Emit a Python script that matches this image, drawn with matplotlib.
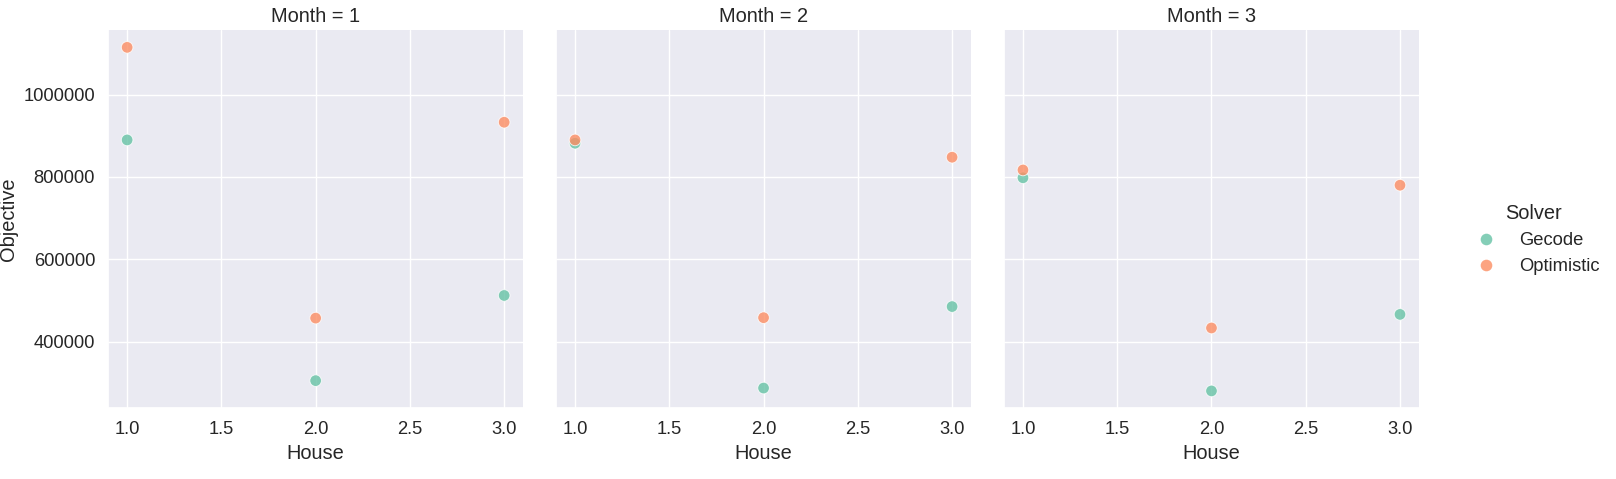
import matplotlib
matplotlib.use("Agg")
import matplotlib.pyplot as plt
import seaborn as sns
import pandas as pd

months = [1, 1, 1, 2, 2, 2, 3, 3, 3]
houses = [1.0, 2.0, 3.0] * 3
gecode = [890000, 305000, 512000, 882000, 287000, 485000, 798000, 280000, 466000]
optimistic = [1115000, 457000, 933000, 890000, 458000, 848000, 817000, 433000, 780000]

df = pd.concat([
    pd.DataFrame({"Month": months, "House": houses, "Objective": gecode, "Solver": "Gecode"}),
    pd.DataFrame({"Month": months, "House": houses, "Objective": optimistic, "Solver": "Optimistic"}),
])

sns.set_theme(style="darkgrid", font_scale=1.2)
plt.rcParams['font.family'] = ['Liberation Sans', 'DejaVu Sans']
g = sns.relplot(data=df, x="House", y="Objective", hue="Solver", col="Month",
                palette="Set2", s=70, alpha=0.8, height=4.79, aspect=1.0)
for ax in g.axes.flat:
    ax.ticklabel_format(style="plain", axis="y")
g.figure.set_size_inches(16.16, 4.79)
g.figure.subplots_adjust(left=0.067, right=0.878, top=0.937, bottom=0.148, wspace=0.08)
g.figure.savefig("out.png", dpi=100)
